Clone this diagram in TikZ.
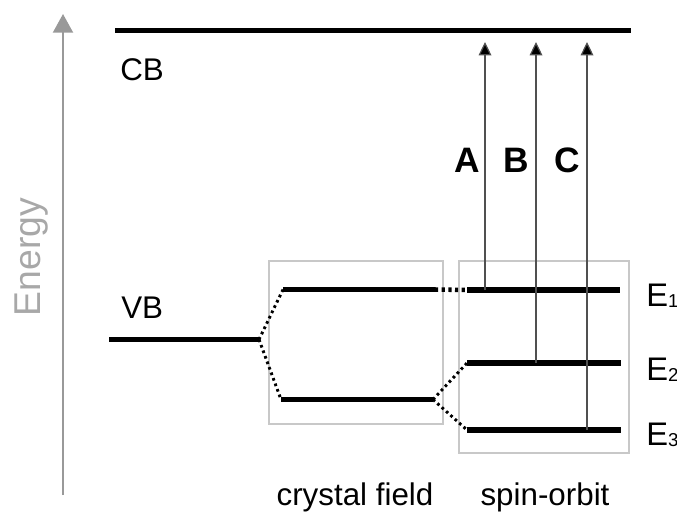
\documentclass[tikz,border=0pt]{standalone}
\usepackage{fontspec}
\setmainfont{Liberation Sans}
\usetikzlibrary{arrows.meta}
\definecolor{axisgrey}{HTML}{999999}
\definecolor{labelgrey}{HTML}{A8A8A8}
\definecolor{boxgrey}{HTML}{C8C8C8}
\definecolor{transgrey}{HTML}{505050}
\tikzset{
  level/.style={line width=4pt, line cap=butt},
  split/.style={line width=2.2pt, dash pattern=on 2pt off 2.4pt},
  bridge/.style={line width=3.4pt, dash pattern=on 2.4pt off 2.6pt},
  frame/.style={draw=boxgrey, line width=0.8pt},
  trans/.style={draw=transgrey, line width=0.9pt,
    -{Triangle[length=10pt,width=9.5pt,fill=black]}},
  lbl/.style={inner sep=0pt, font=\fontsize{23.5}{28}\selectfont},
  peak/.style={inner sep=0pt, font=\fontsize{26.5}{31}\selectfont\bfseries},
  elbl/.style={inner sep=0pt, anchor=base west, font=\fontsize{24.5}{29}\selectfont}
}
\newcommand{\sublvl}[1]{\raisebox{-1pt}{\fontsize{14}{17}\selectfont #1}}
\begin{document}
\begin{tikzpicture}[x=0.75pt, y=-0.75pt]
  \useasboundingbox (0,0) rectangle (677,511);

  % energy axis
  \coordinate (axB) at (63,495);
  \coordinate (axT) at (63,14);
  \draw[axisgrey, line width=1.5pt, -{Triangle[length=14pt,width=15pt]}] (axB) -- (axT);
  \node[rotate=90, anchor=base, inner sep=0pt, text=labelgrey,
        font=\fontsize{28}{33}\selectfont] (energy) at (40,257) {Energy};

  % conduction band
  \coordinate (cbL) at (115,30.5);
  \coordinate (cbR) at (631,30.5);
  \draw[level] (cbL) -- (cbR);
  \node[lbl, anchor=base west] (cb) at (120,80) {CB};

  % valence band
  \coordinate (vbL) at (109,339.5);
  \coordinate (vbR) at (259,339.5);
  \draw[level] (vbL) -- (vbR);
  \node[lbl, anchor=base west] (vb) at (121,318) {VB};

  % crystal-field and spin-orbit frames
  \node[frame, minimum width=174*0.75pt, minimum height=163*0.75pt,
        inner sep=0pt] (cfbox) at (356,342.5) {};
  \node[frame, minimum width=170*0.75pt, minimum height=192*0.75pt,
        inner sep=0pt] (sobox) at (544,357) {};

  % crystal-field levels
  \coordinate (cfUL) at (283,289.5);
  \coordinate (cfUR) at (435,289.5);
  \coordinate (cfLL) at (281,399.5);
  \coordinate (cfLR) at (433,399.5);
  \draw[level] (cfUL) -- (cfUR);
  \draw[level] (cfLL) -- (cfLR);

  % spin-orbit levels
  \coordinate (e1L) at (467,290);
  \coordinate (e1R) at (620,290);
  \coordinate (e2L) at (467,363);
  \coordinate (e2R) at (621,363);
  \coordinate (e3L) at (467,430);
  \coordinate (e3R) at (621,430);
  \draw[level] (e1L) -- (e1R);
  \draw[level] (e2L) -- (e2R);
  \draw[level] (e3L) -- (e3R);

  % correlation lines
  \draw[split] (vbR) -- (cfUL);
  \draw[split] (vbR) -- (cfLL);
  \draw[split] (cfLR) -- (e2L);
  \draw[split] (cfLR) -- (e3L);
  \draw[bridge] (cfUR) -- (e1L);

  % level labels
  \node[elbl] (E1) at (646,306) {E\sublvl{1}};
  \node[elbl] (E2) at (646,380) {E\sublvl{2}};
  \node[elbl] (E3) at (646,445) {E\sublvl{3}};

  % optical transitions
  \coordinate (aBot) at (485,290);
  \coordinate (aTop) at (485,42);
  \coordinate (bBot) at (536,363);
  \coordinate (bTop) at (536,42);
  \coordinate (cBot) at (587,430);
  \coordinate (cTop) at (587,42);
  \draw[trans] (aBot) -- (aTop);
  \draw[trans] (bBot) -- (bTop);
  \draw[trans] (cBot) -- (cTop);
  \node[peak, anchor=base] (A) at (467,172) {A};
  \node[peak, anchor=base] (B) at (516,172) {B};
  \node[peak, anchor=base] (C) at (567,172) {C};

  % panel captions
  \node[lbl, anchor=base] (cf) at (355,505) {crystal field};
  \node[lbl, anchor=base] (so) at (545,505) {spin-orbit};
\end{tikzpicture}
\end{document}
